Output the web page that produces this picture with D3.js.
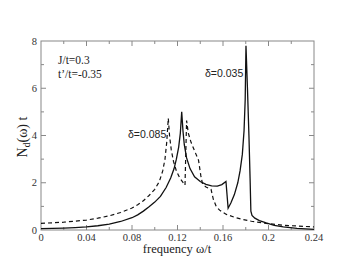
<!DOCTYPE html>
<html>
<head>
<meta charset="utf-8">
<script src="https://cdn.jsdelivr.net/npm/d3@7"></script>
<style>
  body { margin: 0; background: #fff; }
  .serif { font-family: "Liberation Serif", "Times New Roman", "DejaVu Serif", serif; }
  .sans { font-family: "Liberation Sans", Arial, "DejaVu Sans", sans-serif; }
</style>
</head>
<body>
<div id="chart"></div>
<script>
// spectra (delta = 0.035 solid, delta = 0.085 dashed)
var omegaSolid = [0, 0.01, 0.02, 0.03, 0.04, 0.05, 0.06, 0.07, 0.08, 0.085, 0.09, 0.095, 0.1, 0.105, 0.11, 0.114,
  0.117, 0.119, 0.121, 0.1225, 0.1237, 0.1248, 0.126, 0.128, 0.131, 0.135, 0.14, 0.145, 0.15, 0.155, 0.159, 0.1626,
  0.1645, 0.167, 0.17, 0.173, 0.175, 0.177, 0.1785, 0.1795, 0.1802, 0.1815, 0.1828, 0.1838, 0.1845, 0.1855, 0.188,
  0.192, 0.198, 0.205, 0.213, 0.225, 0.24];
var ndSolid = [0.06, 0.07, 0.08, 0.1, 0.13, 0.18, 0.25, 0.36, 0.52, 0.64, 0.8, 0.98, 1.18, 1.42, 1.8, 2.2,
  2.6, 3.0, 3.5, 4.1, 5.0, 4.2, 3.6, 3.05, 2.6, 2.25, 2.05, 1.93, 1.87, 1.86, 1.92, 2.05,
  0.92, 1.15, 1.5, 2.0, 2.5, 3.2, 4.2, 5.5, 7.8, 6.0, 4.0, 2.2, 0.8, 0.62, 0.5,
  0.4, 0.3, 0.2, 0.13, 0.07, 0.03];

var omegaDashed = [0, 0.02, 0.04, 0.05, 0.06, 0.07, 0.08, 0.085, 0.09, 0.095, 0.1, 0.104, 0.107, 0.109, 0.1105,
  0.1119, 0.113, 0.1145, 0.1165, 0.119, 0.122, 0.1266, 0.128, 0.1295, 0.132, 0.135, 0.1385, 0.1405, 0.142, 0.145,
  0.1495, 0.1515, 0.154, 0.157, 0.163, 0.17, 0.177, 0.185, 0.198, 0.213, 0.24];
var ndDashed = [0.28, 0.33, 0.42, 0.5, 0.6, 0.74, 0.93, 1.07, 1.24, 1.46, 1.72, 2.05, 2.5, 3.0, 3.7,
  4.73, 4.0, 3.4, 2.9, 2.5, 2.2, 1.9, 4.63, 4.1, 3.7, 3.35, 2.95, 2.3, 1.95, 1.82,
  1.72, 1.3, 1.0, 0.84, 0.66, 0.54, 0.45, 0.37, 0.28, 0.2, 0.13];

var xTicks = [0, 0.04, 0.08, 0.12, 0.16, 0.2, 0.24];
var yTicks = [0, 2, 4, 6, 8];

var width = 354, height = 273;
var pL = 41, pR = 314, pT = 41, pB = 230;

var svg = d3.select("#chart").append("svg")
  .attr("width", width).attr("height", height);

var x = d3.scaleLinear().domain([0, 0.24]).range([pL, pR]);
var y = d3.scaleLinear().domain([0, 8]).range([pB, pT]);

// frame
svg.append("rect")
  .attr("x", pL).attr("y", pT)
  .attr("width", pR - pL).attr("height", pB - pT)
  .attr("fill", "none").attr("stroke", "#888").attr("stroke-width", 1);

// ticks (inward, all four sides)
var xMinor = d3.range(0.02, 0.24, 0.04);
var yMinor = d3.range(1, 8, 2);
var tk = svg.append("g").attr("stroke", "#888").attr("stroke-width", 1);
xTicks.slice(1, -1).forEach(function(v) {
  tk.append("line").attr("x1", x(v)).attr("x2", x(v)).attr("y1", pB).attr("y2", pB - 5);
  tk.append("line").attr("x1", x(v)).attr("x2", x(v)).attr("y1", pT).attr("y2", pT + 5);
});
xMinor.forEach(function(v) {
  tk.append("line").attr("x1", x(v)).attr("x2", x(v)).attr("y1", pB).attr("y2", pB - 3);
  tk.append("line").attr("x1", x(v)).attr("x2", x(v)).attr("y1", pT).attr("y2", pT + 3);
});
yTicks.slice(1, -1).forEach(function(v) {
  tk.append("line").attr("x1", pL).attr("x2", pL + 5).attr("y1", y(v)).attr("y2", y(v));
  tk.append("line").attr("x1", pR).attr("x2", pR - 5).attr("y1", y(v)).attr("y2", y(v));
});
yMinor.forEach(function(v) {
  tk.append("line").attr("x1", pL).attr("x2", pL + 3).attr("y1", y(v)).attr("y2", y(v));
  tk.append("line").attr("x1", pR).attr("x2", pR - 3).attr("y1", y(v)).attr("y2", y(v));
});

// tick labels
svg.append("g").selectAll("text").data(xTicks).enter().append("text")
  .attr("class", "serif")
  .attr("x", d => x(d)).attr("y", pB + 11)
  .attr("text-anchor", "middle").attr("font-size", 10.5).attr("fill", "#333")
  .text(d => d3.format("")(d));
svg.append("g").selectAll("text").data(yTicks).enter().append("text")
  .attr("class", "serif")
  .attr("x", pL - 4).attr("y", d => y(d) + 3.5)
  .attr("text-anchor", "end").attr("font-size", 10.5).attr("fill", "#333")
  .text(d => d);

// axis titles
svg.append("text").attr("class", "serif")
  .attr("x", 177).attr("y", 253)
  .attr("text-anchor", "middle").attr("font-size", 12.5).attr("fill", "#222")
  .text("frequency ω/t");

var yt = svg.append("text").attr("class", "serif")
  .attr("transform", "translate(27,137) rotate(-90)")
  .attr("text-anchor", "middle").attr("font-size", 14).attr("fill", "#222");
yt.append("tspan").text("N");
yt.append("tspan").attr("font-size", 9.5).attr("dy", 3).text("d");
yt.append("tspan").attr("dy", -3).text("(ω) t");

// curves
var line = d3.line().x(d => x(d[0])).y(d => y(d[1]));
svg.append("path")
  .datum(d3.zip(omegaDashed, ndDashed))
  .attr("d", line)
  .attr("fill", "none").attr("stroke", "#111").attr("stroke-width", 1.2)
  .attr("stroke-dasharray", "4,3");
svg.append("path")
  .datum(d3.zip(omegaSolid, ndSolid))
  .attr("d", line)
  .attr("fill", "none").attr("stroke", "#111").attr("stroke-width", 1.3);

// annotations
svg.append("text").attr("class", "serif").attr("x", 58).attr("y", 64)
  .attr("font-size", 11.5).attr("fill", "#222").text("J/t=0.3");
svg.append("text").attr("class", "serif").attr("x", 58).attr("y", 77.5)
  .attr("font-size", 11.5).attr("fill", "#222").text("t’/t=-0.35");
svg.append("text").attr("class", "sans").attr("x", 205).attr("y", 77)
  .attr("font-size", 10.5).attr("fill", "#222").text("δ=0.035");
svg.append("text").attr("class", "sans").attr("x", 128).attr("y", 138)
  .attr("font-size", 10.5).attr("fill", "#222").text("δ=0.085");
</script>
</body>
</html>
